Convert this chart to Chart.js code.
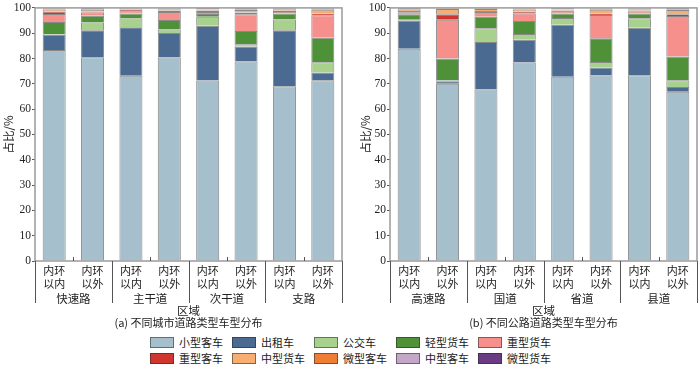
<!DOCTYPE html>
<html>
<head>
<meta charset="utf-8">
<script src="https://cdn.jsdelivr.net/npm/chart.js@4.4.1/dist/chart.umd.min.js"></script>
<style>
  body { margin: 0; background: #fff; }
  #wrap { position: relative; width: 700px; height: 366px; font-family: "Liberation Serif", "Noto Sans CJK SC", serif; }
  .box { position: absolute; width: 350px; height: 330px; top: 0; }
  .lg { position: absolute; font-size: 11px; color: #222; line-height: 12px; white-space: nowrap; }
  .lg i { position: absolute; left: 0; top: 1px; width: 22px; height: 9px; border: 1px solid rgba(40,40,40,0.55); }
  .lg span { position: absolute; left: 29px; top: 0; }
</style>
</head>
<body>
<div id="wrap">
  <div class="box" style="left:0"><canvas id="cityChart"></canvas></div>
  <div class="box" style="left:350px"><canvas id="roadChart"></canvas></div>
</div>
<script>
// 分类标签
const barLabels = [['内环', '以内'], ['内环', '以外'], ['内环', '以内'], ['内环', '以外'],
                   ['内环', '以内'], ['内环', '以外'], ['内环', '以内'], ['内环', '以外']];
const cityGroups = ['快速路', '主干道', '次干道', '支路'];
const roadGroups = ['高速路', '国道', '省道', '县道'];
const yTicks = [0, 10, 20, 30, 40, 50, 60, 70, 80, 90, 100];

const vehicleTypes = ['小型客车', '出租车', '公交车', '轻型货车', '重型货车',
                      '重型客车', '中型货车', '微型客车', '中型客车', '微型货车'];
const vehicleColors = ['#a5c0cc', '#4a6a91', '#a9d18e', '#4f9139', '#f5908d',
                       '#d1362e', '#f8ae70', '#ef7d33', '#c4a6c9', '#6b3b83'];

// (a) 城市道路 占比/%
const cityCar         = [83.4, 80.5, 73.2, 80.4, 71.3, 78.8, 69.0, 71.4];
const cityTaxi        = [6.0, 10.7, 19.2, 9.7, 21.6, 5.9, 22.2, 3.1];
const cityBus         = [0.3, 3.0, 3.4, 1.4, 3.6, 0.9, 4.2, 4.0];
const cityLightTruck  = [4.7, 2.7, 2.0, 3.7, 1.1, 5.3, 2.4, 9.7];
const cityHeavyTruck  = [3.2, 1.3, 0.9, 3.2, 0.8, 6.6, 0.6, 8.9];
const cityHeavyBus    = [1.0, 0.4, 0.5, 0.6, 0.6, 0.7, 0.5, 0.7];
const cityMediumTruck = [0.8, 0.6, 0.3, 0.5, 0.3, 1.0, 0.4, 1.5];
const cityMiniBus     = [0.3, 0.3, 0.2, 0.2, 0.2, 0.3, 0.3, 0.3];
const cityMediumBus   = [0.1, 0.2, 0.1, 0.1, 0.2, 0.2, 0.2, 0.2];
const cityMiniTruck   = [0.2, 0.3, 0.2, 0.2, 0.3, 0.3, 0.2, 0.2];

// (b) 公路 占比/%
const roadCar         = [83.9, 70.0, 67.8, 78.4, 72.8, 73.3, 73.4, 66.9];
const roadTaxi        = [11.1, 1.0, 18.7, 9.0, 20.5, 3.2, 18.8, 1.8];
const roadBus         = [0.3, 0.4, 5.5, 2.3, 2.7, 2.1, 3.7, 2.7];
const roadLightTruck  = [2.2, 8.6, 4.5, 5.1, 1.8, 9.4, 1.9, 9.4];
const roadHeavyTruck  = [0.8, 15.3, 1.9, 3.0, 0.7, 9.2, 0.8, 16.0];
const roadHeavyBus    = [0.5, 2.2, 0.4, 0.8, 0.5, 0.6, 0.4, 0.7];
const roadMediumTruck = [0.4, 2.1, 0.8, 0.8, 0.3, 1.5, 0.4, 1.7];
const roadMiniBus     = [0.3, 0.2, 0.2, 0.3, 0.2, 0.3, 0.2, 0.3];
const roadMediumBus   = [0.2, 0.1, 0.1, 0.1, 0.2, 0.2, 0.2, 0.2];
const roadMiniTruck   = [0.3, 0.1, 0.1, 0.2, 0.3, 0.2, 0.2, 0.3];

const citySeries = [cityCar, cityTaxi, cityBus, cityLightTruck, cityHeavyTruck,
                    cityHeavyBus, cityMediumTruck, cityMiniBus, cityMediumBus, cityMiniTruck];
const roadSeries = [roadCar, roadTaxi, roadBus, roadLightTruck, roadHeavyTruck,
                    roadHeavyBus, roadMediumTruck, roadMiniBus, roadMediumBus, roadMiniTruck];

const SERIF = '"Liberation Serif", "Noto Sans CJK SC", serif';
const CJK = '"Noto Sans CJK SC", "Liberation Serif", sans-serif';

// 坐标轴下方的分组标签、分隔线、边框和标题
const decorPlugin = {
  id: 'decor',
  afterDraw(chart, args, opts) {
    const { ctx, chartArea: a, scales: { x } } = chart;
    ctx.save();
    // 外框
    ctx.strokeStyle = '#9a9a9a';
    ctx.lineWidth = 1.5;
    ctx.strokeRect(a.left, a.top, a.right - a.left, a.bottom - a.top);
    // 分隔线
    ctx.strokeStyle = '#555';
    ctx.lineWidth = 1;
    const n = barLabels.length;
    for (let i = 0; i <= n; i++) {
      let px;
      if (i === 0) px = a.left;
      else if (i === n) px = a.right;
      else px = (x.getPixelForValue(i - 1) + x.getPixelForValue(i)) / 2;
      px = Math.round(px) + 0.5;
      ctx.beginPath();
      if (i % 2 === 0) {
        ctx.moveTo(px, a.bottom);
        ctx.lineTo(px, a.bottom + 42);
      } else {
        ctx.moveTo(px, a.bottom);
        ctx.lineTo(px, a.bottom - 4);
      }
      ctx.stroke();
    }
    // 分组标签
    ctx.fillStyle = '#222';
    ctx.textAlign = 'center';
    ctx.textBaseline = 'middle';
    ctx.font = '11.5px ' + CJK;
    opts.groups.forEach((g, k) => {
      const cx = (x.getPixelForValue(2 * k) + x.getPixelForValue(2 * k + 1)) / 2;
      ctx.fillText(g, cx, a.bottom + 38);
    });
    const mid = (a.left + a.right) / 2;
    ctx.fillText('区域', mid, a.bottom + 50);
    ctx.font = '11px ' + CJK;
    ctx.fillText(opts.caption, mid, a.bottom + 62);
    // y 轴标题
    ctx.translate(opts.titleX, (a.top + a.bottom) / 2);
    ctx.rotate(-Math.PI / 2);
    ctx.font = '11.5px ' + CJK;
    ctx.fillText('占比/%', 0, 0);
    ctx.restore();
  }
};

function makeChart(id, series, groups, caption, yWidth, padRight, titleX) {
  const datasets = series.map((vals, k) => ({
    label: vehicleTypes[k],
    data: vals,
    backgroundColor: vehicleColors[k],
    borderColor: 'rgba(40,40,40,0.55)',
    borderWidth: 1,
    barPercentage: 0.6,
    categoryPercentage: 1
  }));
  return new Chart(document.getElementById(id), {
    type: 'bar',
    data: { labels: barLabels, datasets },
    options: {
      responsive: true,
      maintainAspectRatio: false,
      animation: false,
      layout: { padding: { top: 6, right: padRight, left: 0, bottom: 0 } },
      plugins: {
        legend: { display: false },
        tooltip: { enabled: false },
        decor: { groups, caption, titleX }
      },
      scales: {
        x: {
          stacked: true,
          grid: { display: false, drawTicks: false },
          border: { display: false },
          ticks: { color: '#222', padding: 3, font: { family: CJK, size: 11, lineHeight: 1.2 } },
          afterFit: s => { s.height = 69; }
        },
        y: {
          stacked: true,
          min: 0,
          max: 100,
          afterBuildTicks: s => { s.ticks = yTicks.map(v => ({ value: v })); },
          grid: { drawOnChartArea: false, tickLength: 3, color: '#555' },
          border: { display: false },
          ticks: { color: '#222', padding: 1, font: { family: SERIF, size: 11.5 } },
          afterFit: s => { s.width = yWidth; }
        }
      }
    },
    plugins: [decorPlugin]
  });
}

makeChart('cityChart', citySeries, cityGroups, '(a) 不同城市道路类型车型分布', 35, 8, 9);
makeChart('roadChart', roadSeries, roadGroups, '(b) 不同公路道路类型车型分布', 40, 3, 16);

// 图例（两行五列）
const wrap = document.getElementById('wrap');
const legendX = [150, 232, 314, 396, 478];
const legendY = [336, 352];
vehicleTypes.forEach((name, k) => {
  const d = document.createElement('div');
  d.className = 'lg';
  d.style.left = legendX[k % 5] + 'px';
  d.style.top = legendY[Math.floor(k / 5)] + 'px';
  d.innerHTML = '<i style="background:' + vehicleColors[k] + '"></i><span>' + name + '</span>';
  d.style.fontFamily = CJK;
  wrap.appendChild(d);
});
</script>
</body>
</html>
